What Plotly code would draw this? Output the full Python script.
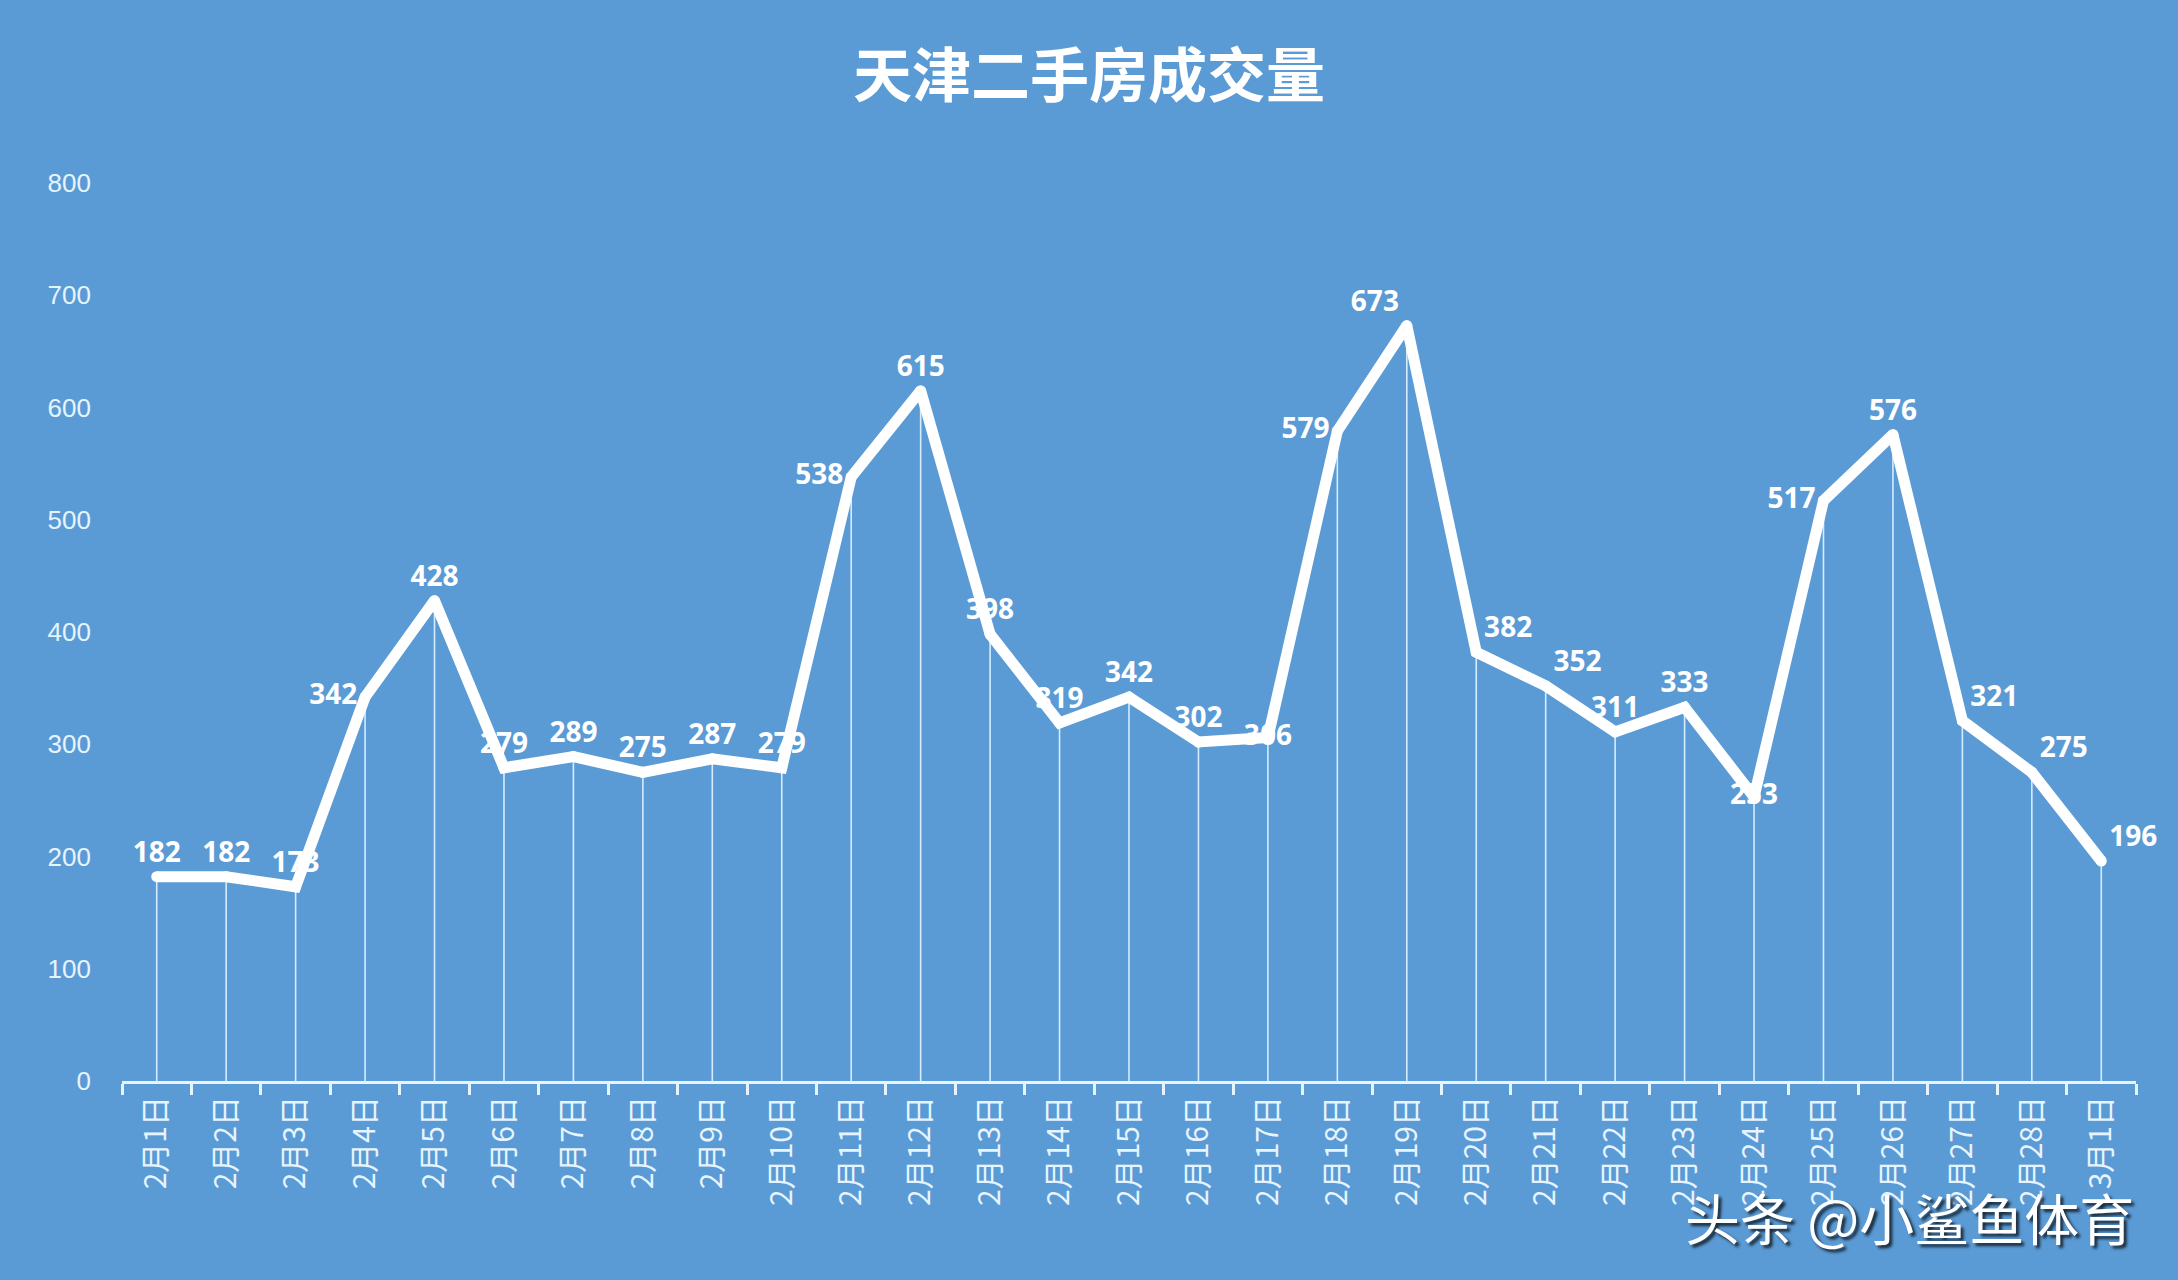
import plotly.graph_objects as go

categories = [f"2月{d}日" for d in range(1, 29)] + ["3月1日"]
values = [182, 182, 173, 342, 428, 279, 289, 275, 287, 279,
          538, 615, 398, 319, 342, 302, 306, 579, 673, 382,
          352, 311, 333, 253, 517, 576, 321, 275, 196]
label_pos = ["top center", "top center", "top center", "middle left", "top center",
             "top center", "top center", "top center", "top center", "top center",
             "middle left", "top center", "top center", "top center", "top center",
             "top center", "middle center", "middle left", "top left", "top right",
             "top right", "top center", "top center", "middle center", "middle left",
             "top center", "top right", "top right", "top right"]
y_ticks = [0, 100, 200, 300, 400, 500, 600, 700, 800]
title = "天津二手房成交量"
watermark = "头条 @小鲨鱼体育"

BG = "#5b9bd5"
PALE = "#e6f4ff"

drop_x, drop_y = [], []
for c, v in zip(categories, values):
    drop_x += [c, c, None]
    drop_y += [0, v, None]

fig = go.Figure()
fig.add_trace(go.Scatter(
    x=drop_x, y=drop_y, mode="lines",
    line=dict(color="#d4ecff", width=1.6),
    hoverinfo="skip", showlegend=False,
))
fig.add_trace(go.Scatter(
    x=categories, y=values, mode="lines+markers+text",
    line=dict(color="white", width=11),
    marker=dict(color="white", size=11),
    text=[str(v) for v in values],
    textposition=label_pos,
    textfont=dict(family="Noto Sans", size=28, color="white", weight="bold"),
    cliponaxis=False,
    showlegend=False,
))

fig.update_layout(
    width=2178, height=1280,
    paper_bgcolor=BG, plot_bgcolor=BG,
    margin=dict(l=122, r=42, t=183, b=199),
    title=dict(text=title, x=0.5, xanchor="center", y=1 - 76 / 1280, yanchor="middle",
               yref="container",
               font=dict(family="Noto Sans CJK SC", size=59, color="white", weight="bold")),
    xaxis=dict(
        type="category", categoryorder="array", categoryarray=categories,
        range=[-0.5, len(categories) - 0.5],
        showgrid=False, zeroline=False,
        showline=True, linecolor=PALE, linewidth=3,
        ticks="outside", tickson="boundaries", ticklen=11, tickwidth=3, tickcolor=PALE,
        tickangle=-90,
        tickfont=dict(family="Noto Sans CJK SC", size=30, color=PALE),
    ),
    yaxis=dict(
        range=[0, 800], tickvals=y_ticks,
        showgrid=False, zeroline=False, showline=False,
        ticks="", ticklabelstandoff=30,
        tickfont=dict(family="Liberation Sans", size=26, color=PALE),
    ),
    annotations=[dict(
        text=watermark, xref="paper", yref="paper",
        x=1.0, y=-0.15, xanchor="right", yanchor="middle", showarrow=False,
        font=dict(family="Noto Sans CJK SC", size=55, color="white",
                  shadow="3px 3px 3px #1a2a3a"),
    )],
)

fig.write_html("out.html")
